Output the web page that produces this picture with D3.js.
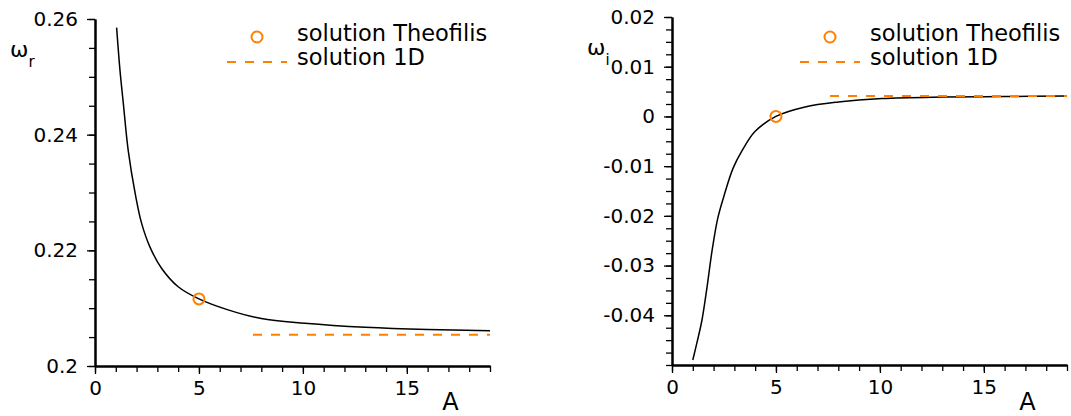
<!DOCTYPE html>
<html>
<head>
<meta charset="utf-8">
<script src="https://cdn.jsdelivr.net/npm/d3@7"></script>
<style>
  body { margin: 0; background: #fff; }
  svg { display: block; font-family: "DejaVu Sans", sans-serif; }
</style>
</head>
<body>
<svg width="1071" height="416"></svg>
<script>
// frequency omega_r vs A
const aReal = [1.04, 1.2, 1.36, 1.6, 1.95, 2.24, 2.64, 3.2, 4.0, 5.0, 6.4, 8.0, 10.1, 13, 16, 19];
const omegaR = [0.2585, 0.2512, 0.2455, 0.2372, 0.2295, 0.2247, 0.2206, 0.2169, 0.2137, 0.2116, 0.2097, 0.2082, 0.2074, 0.2067, 0.2063, 0.2061];
// growth rate omega_i vs A
const aImag = [1.0, 1.2, 1.44, 1.68, 1.92, 2.2, 2.5, 2.93, 3.37, 4.0, 5.0, 6.4, 8.0, 10.1, 13, 16, 19];
const omegaI = [-0.049, -0.0455, -0.041, -0.0345, -0.0272, -0.0205, -0.0160, -0.0105, -0.0069, -0.0030, 0.0, 0.0019, 0.0029, 0.0036, 0.0039, 0.0040, 0.0041];

// reference solutions
const theofilisA = 5;
const theofilisR = 0.2116;
const theofilisI = 0.0;
const oneDStartA = 7.6;
const oneDR = 0.2054;
const oneDI = 0.0041;

const xMajor = [0, 5, 10, 15];
const xLabels = ["0", "5", "10", "15"];
const yMajorR = [0.2, 0.22, 0.24, 0.26];
const yLabelsR = ["0.2", "0.22", "0.24", "0.26"];
const yMajorI = [-0.04, -0.03, -0.02, -0.01, 0, 0.01, 0.02];
const yLabelsI = ["-0.04", "-0.03", "-0.02", "-0.01", "0", "0.01", "0.02"];

const orange = "#ff8000";
const svg = d3.select("svg");

function drawPanel(p) {
    const g = svg.append("g");
    const x = d3.scaleLinear().domain([0, 19]).range([p.left, p.left + 395]);
    const y = d3.scaleLinear().domain(p.yDomain).range([p.bottom, p.top]);

    // minor ticks
    g.append("g")
        .attr("transform", `translate(0, ${p.bottom})`)
        .call(d3.axisBottom(x).tickValues(d3.range(0, 20, 1)).tickSize(6).tickSizeOuter(0).tickFormat(""));
    g.append("g")
        .attr("transform", `translate(${p.left}, 0)`)
        .call(d3.axisLeft(y).tickValues(p.yMinor).tickSize(6).tickSizeOuter(0).tickFormat(""));

    // major ticks
    g.append("g")
        .attr("class", "xax")
        .attr("transform", `translate(0, ${p.bottom})`)
        .call(d3.axisBottom(x).tickValues(xMajor).tickSize(8).tickSizeOuter(0).tickPadding(6)
            .tickFormat((d, i) => xLabels[i]));
    g.append("g")
        .attr("class", "yax")
        .attr("transform", `translate(${p.left}, 0)`)
        .call(d3.axisLeft(y).tickValues(p.yMajor).tickSize(8).tickSizeOuter(0).tickPadding(9)
            .tickFormat((d, i) => p.yLabels[i]));

    g.selectAll(".domain").attr("stroke", "#000").attr("stroke-width", 2);
    g.selectAll(".tick line").attr("stroke", "#000").attr("stroke-width", 1.3);
    g.selectAll(".tick text").attr("font-size", 20).attr("fill", "#000")
        .attr("font-family", "DejaVu Sans");
    g.selectAll(".xax .tick text").attr("dy", "0.76em").attr("y", 14);

    // curve
    g.append("path")
        .datum(p.xs.map((a, i) => [a, p.ys[i]]))
        .attr("fill", "none")
        .attr("stroke", "#000")
        .attr("stroke-width", 1.5)
        .attr("d", d3.line().x(d => x(d[0])).y(d => y(d[1])).curve(d3.curveCatmullRom.alpha(0.5)));

    // 1D solution
    g.append("line")
        .attr("x1", x(oneDStartA)).attr("x2", x(19))
        .attr("y1", y(p.oneD)).attr("y2", y(p.oneD))
        .attr("stroke", orange).attr("stroke-width", 2).attr("stroke-dasharray", "9,9");

    // Theofilis point
    g.append("circle")
        .attr("cx", x(theofilisA)).attr("cy", y(p.theo)).attr("r", 5.5)
        .attr("fill", "none").attr("stroke", orange).attr("stroke-width", 2);

    // axis labels
    g.append("text").attr("x", x(17.1)).attr("y", 410).attr("text-anchor", "middle")
        .attr("font-size", 24).text("A");
    const yl = g.append("text").attr("x", p.left - 85).attr("y", p.top + 38).attr("font-size", 22);
    yl.append("tspan").text("ω");
    yl.append("tspan").attr("font-size", 15).attr("dy", 10).text(p.sub);

    // legend
    const lx = p.legendX;
    g.append("circle").attr("cx", lx + 30).attr("cy", 37).attr("r", 5.5)
        .attr("fill", "none").attr("stroke", orange).attr("stroke-width", 2);
    g.append("line").attr("x1", lx).attr("x2", lx + 60).attr("y1", 62).attr("y2", 62)
        .attr("stroke", orange).attr("stroke-width", 2).attr("stroke-dasharray", "9,9");
    g.append("text").attr("x", lx + 70).attr("y", 41).attr("font-size", 22.5).text("solution Theofilis");
    g.append("text").attr("x", lx + 70).attr("y", 65).attr("font-size", 22.5).text("solution 1D");
}

drawPanel({
    left: 95, top: 19, bottom: 366,
    yDomain: [0.2, 0.26],
    yMajor: yMajorR, yLabels: yLabelsR,
    yMinor: d3.range(0, 13).map(k => 0.2 + k * 0.005),
    xs: aReal, ys: omegaR,
    theo: theofilisR, oneD: oneDR,
    sub: "r", legendX: 227
});

drawPanel({
    left: 672, top: 17, bottom: 365,
    yDomain: [-0.05, 0.02],
    yMajor: yMajorI, yLabels: yLabelsI,
    yMinor: d3.range(0, 29).map(k => -0.05 + k * 0.0025),
    xs: aImag, ys: omegaI,
    theo: theofilisI, oneD: oneDI,
    sub: "i", legendX: 800
});
</script>
</body>
</html>
